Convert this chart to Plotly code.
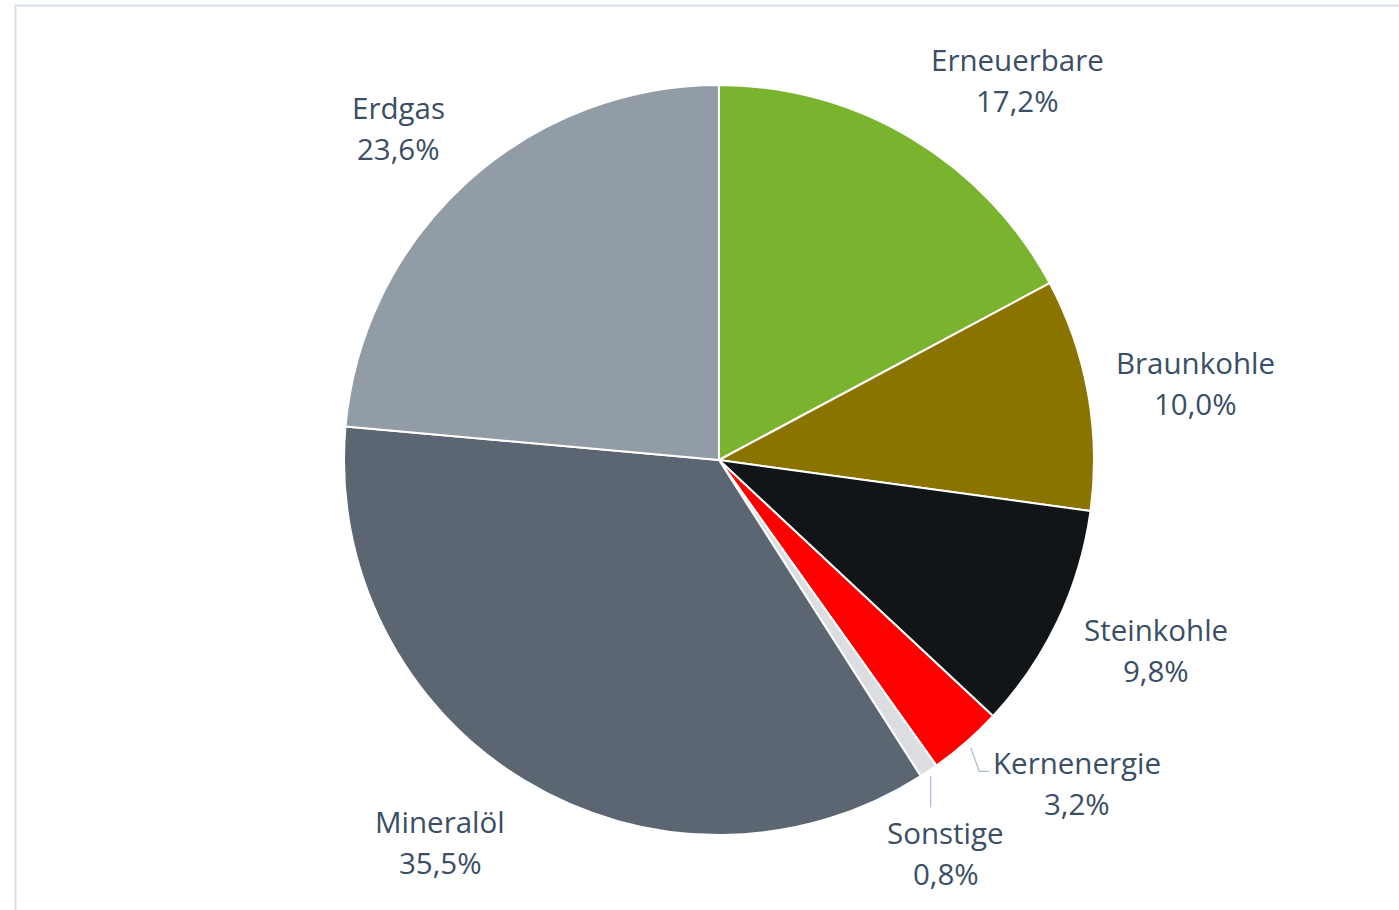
import math
import plotly.graph_objects as go

# ---- data ----
categories = ["Erneuerbare", "Braunkohle", "Steinkohle", "Kernenergie", "Sonstige", "Mineralöl", "Erdgas"]
shares = [17.2, 10.0, 9.8, 3.2, 0.8, 35.5, 23.6]
colors = ["#7ab32e", "#8b7300", "#111518", "#ff0000", "#dcdde0", "#5c6672", "#919ca7"]

# ---- layout geometry (pixels) ----
W, H = 1399, 910
CX, CY, R = 719, 460, 375
TEXT_COLOR = "#3a4e65"
FONT = "Open Sans"
FS = 29.5
LINE_GAP = 41
# nudges of label centres relative to radial base point (pixels)
LABEL_NUDGE = {
    "Erneuerbare": (63, 12), "Braunkohle": (26, 4), "Steinkohle": (24, -7),
    "Kernenergie": (57, -21), "Sonstige": (-29, 14), "Mineralöl": (-41, -9), "Erdgas": (-12, 6),
}
LABEL_RADIUS = 1.22


def px(x):
    return x / W


def py(y):
    return 1 - y / H


fig = go.Figure(go.Pie(
    labels=categories, values=shares, sort=False, direction="clockwise", rotation=0,
    marker=dict(colors=colors, line=dict(color="white", width=2)),
    textinfo="none", hoverinfo="label+percent", showlegend=False,
    domain=dict(x=[px(CX - R), px(CX + R)], y=[py(CY + R), py(CY - R)]),
))

total = sum(shares)
annotations = []
shapes = []
cum = 0.0
for cat, v in zip(categories, shares):
    mid = (cum + v / 2) / total * 2 * math.pi
    cum += v
    s, c = math.sin(mid), math.cos(mid)
    bx = CX + LABEL_RADIUS * R * s
    by = CY - LABEL_RADIUS * R * c
    nx, ny = LABEL_NUDGE[cat]
    lx, ly = bx + nx, by + ny
    pct = f"{v:.1f}%".replace(".", ",")
    for txt, yy in ((cat, ly - LINE_GAP / 2), (pct, ly + LINE_GAP / 2)):
        annotations.append(dict(
            x=px(lx), y=py(yy), xref="paper", yref="paper", text=txt, showarrow=False,
            xanchor="center", yanchor="middle",
            font=dict(family=FONT, size=FS, color=TEXT_COLOR),
        ))
    if cat == "Kernenergie":
        ex, ey = CX + R * 1.02 * s, CY - R * 1.02 * c
        path = f"M {px(ex)} {py(ey)} L {px(lx - 98)} {py(ly - 12)} L {px(lx - 88)} {py(ly - 12)}"
        shapes.append(dict(type="path", xref="paper", yref="paper", path=path,
                           line=dict(color="#a9bfd1", width=1.3)))
    if cat == "Sonstige":
        ex, ey = CX + R * s, CY - R * c
        shapes.append(dict(type="line", xref="paper", yref="paper",
                           x0=px(ex + 2), y0=py(ey + 5), x1=px(ex + 2), y1=py(ly - 46),
                           line=dict(color="#a9bfd1", width=1.3)))

# outer frame (left and top edges visible)
shapes.append(dict(type="rect", xref="paper", yref="paper",
                   x0=px(15.5), x1=px(W + 10), y0=py(H + 10), y1=py(5.5),
                   line=dict(color="#d6dfe9", width=2)))

fig.update_layout(
    width=W, height=H, margin=dict(l=0, r=0, t=0, b=0),
    paper_bgcolor="white", plot_bgcolor="white",
    annotations=annotations, shapes=shapes, separators=",.",
)
fig.write_html("out.html", config={"displayModeBar": False},
               post_script="document.body.style.margin='0';")
